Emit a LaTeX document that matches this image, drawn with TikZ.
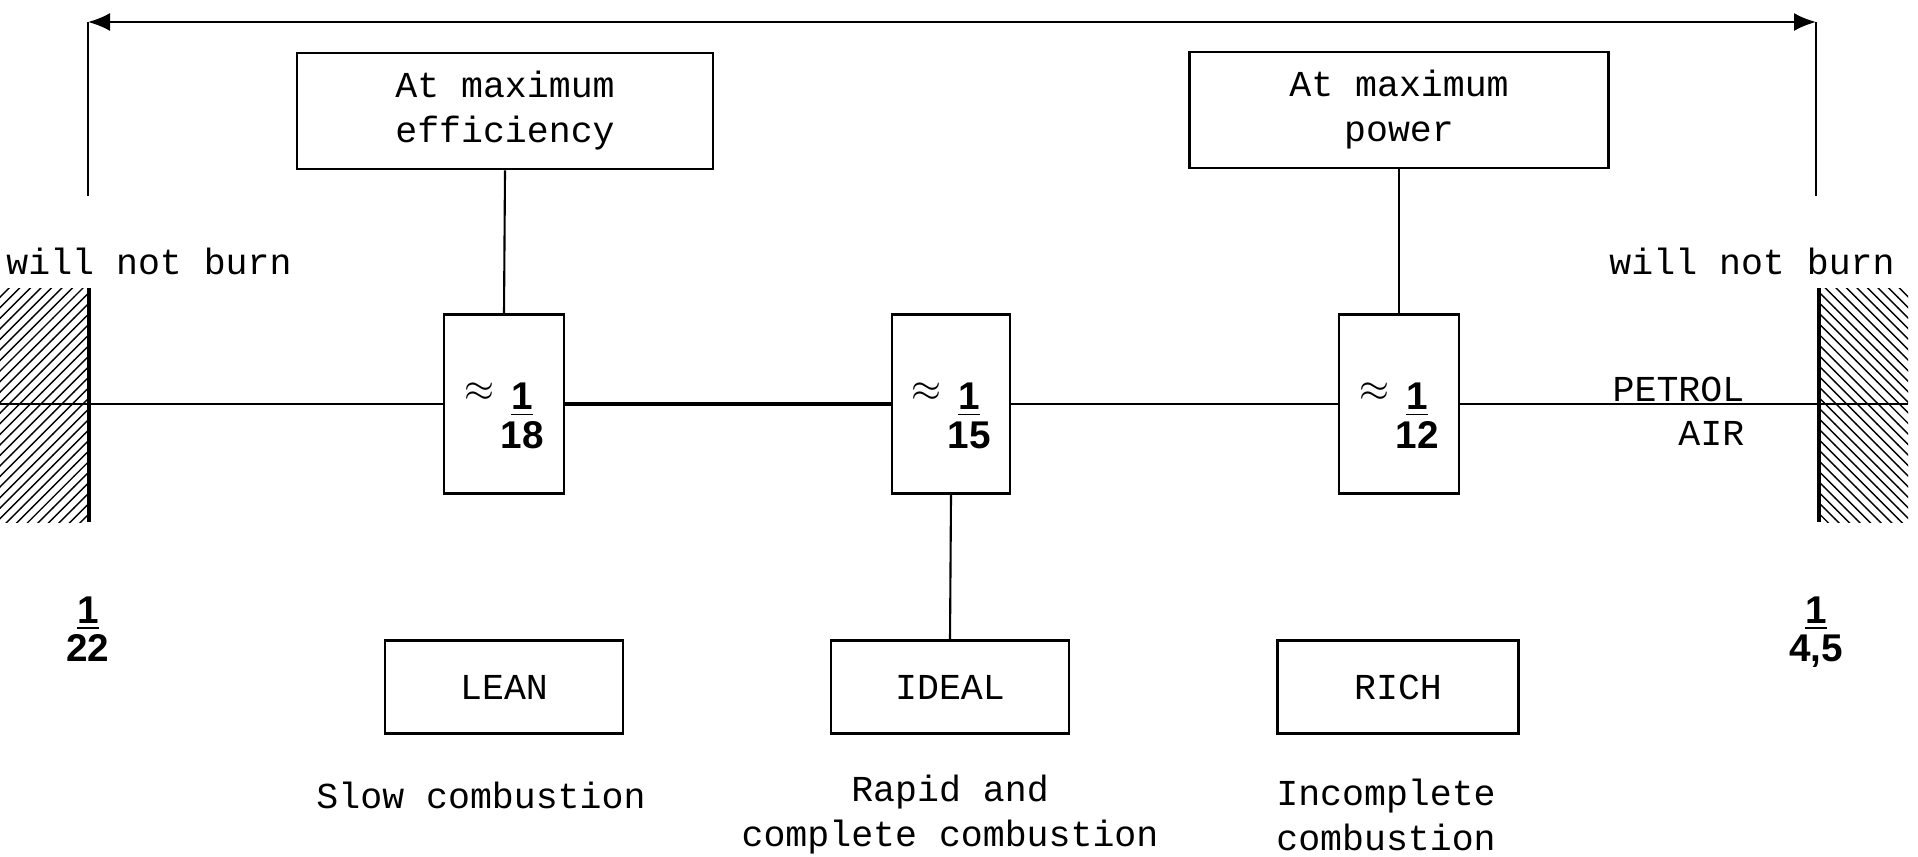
\documentclass[tikz,border=0pt]{standalone}
\usepackage{fontspec}
\setmonofont{Liberation Mono}
\newfontfamily\numfont{Liberation Sans}
\usetikzlibrary{patterns, arrows.meta}

\newcommand{\ratio}[2]{\begin{tabular}{@{}c@{}}\underline{#1}\\[-1pt]#2\end{tabular}}
\newcommand{\aboutratio}[2]{\raisebox{-0.26cm}{\raisebox{8pt}{$\approx$}\,\ratio{#1}{#2}}}

\tikzset{
	typed/.style = {font = \ttfamily\fontsize{10.4}{12.8}\selectfont},
	numbers/.style = {font = \numfont\bfseries\fontsize{11}{12}\selectfont},
	mixbox/.style = {draw, line width = 0.8pt, inner sep = 0pt, typed, align = center},
	ratiobox/.style = {draw, line width = 0.8pt, inner sep = 0pt, numbers,
		text height = 0.5cm, text depth = 0.5cm,
		minimum width = 1.2cm, minimum height = 1.79cm},
}

\begin{document}
\begin{tikzpicture}[line width = 0.6pt]
		\useasboundingbox (0, 0) rectangle (19.18, 8.56);
		
		\def\axis{4.52}
		
		\coordinate (left end) at (0, \axis);
		\coordinate (right end) at (19.08, \axis);
		\coordinate (lean limit) at (0.88, 6.60);
		\coordinate (rich limit) at (18.16, 6.60);
		\coordinate (lean top) at (0.88, 8.34);
		\coordinate (rich top) at (18.16, 8.34);
		
		% walls where the mixture will not burn
		\fill [pattern = north east lines] (0, 3.34) rectangle (0.89, 5.68);
		\draw [line width = 1pt] (0.89, 3.34) -- (0.89, 5.68);
		\fill [pattern = north west lines] (18.19, 3.34) rectangle (19.08, 5.68);
		\draw [line width = 1pt] (18.19, 3.34) -- (18.19, 5.68);
		
		\node [typed] (lean burn) at (1.49, 5.95) {will not burn};
		\node [typed] (rich burn) at (17.52, 5.95) {will not burn};
		
		% ratio boxes
		\node [ratiobox] (r18) at (5.04, \axis) {\aboutratio{1}{18}};
		\node [ratiobox, minimum width = 1.18cm] (r15) at (9.51, \axis) {\aboutratio{1}{15}};
		\node [ratiobox] (r12) at (13.99, \axis) {\aboutratio{1}{12}};
		
		\node [mixbox, minimum width = 4.16cm, minimum height = 1.16cm] (efficiency) at (5.05, 7.45) {At maximum\\efficiency};
		\node [mixbox, minimum width = 4.19cm, minimum height = 1.16cm] (power) at (13.99, 7.46) {At maximum\\power};
		
		\node [mixbox, minimum width = 2.38cm, minimum height = 0.93cm] (lean) at (5.04, 1.69) {LEAN};
		\node [mixbox, minimum width = 2.38cm, minimum height = 0.93cm] (ideal) at (9.50, 1.69) {IDEAL};
		\node [mixbox, minimum width = 2.41cm, minimum height = 0.93cm] (rich) at (13.98, 1.69) {RICH};
		
		\node [typed] (slow) at (4.81, 0.61) {Slow combustion};
		\node [typed, align = center] (rapid) at (9.50, 0.41) {Rapid and\\complete combustion};
		\node [typed, align = center] (incomplete) at (13.86, 0.41) {Incomplete\\combustion};
		
		\node [typed, anchor = east] (petrol) at (17.57, 4.67) {PETROL};
		\node [typed, anchor = east] (air) at (17.57, 4.23) {AIR};
		
		\node [numbers] (lean ratio) at (0.88, 2.22) {\ratio{1}{22}};
		\node [numbers] (rich ratio) at (18.16, 2.22) {\ratio{1}{4,5}};
		
		% axis through the boxes
		\draw (left end) -- (r18.west);
		\draw [line width = 1pt] (r18.east) -- (r15.west);
		\draw (r15.east) -- (r12.west);
		\draw (r12.east) -- (right end);
		
		\draw (efficiency.south) -- (r18.north);
		\draw (power.south) -- (r12.north);
		\draw (r15.south) -- (ideal.north);
		
		% range of mixtures that burn
		\draw (lean limit) -- (lean top);
		\draw (rich limit) -- (rich top);
		\draw [{Latex[length = 2.2mm, width = 1.8mm]}-{Latex[length = 2.2mm, width = 1.8mm]}] (lean top) -- (rich top);
	\end{tikzpicture}
\end{document}
